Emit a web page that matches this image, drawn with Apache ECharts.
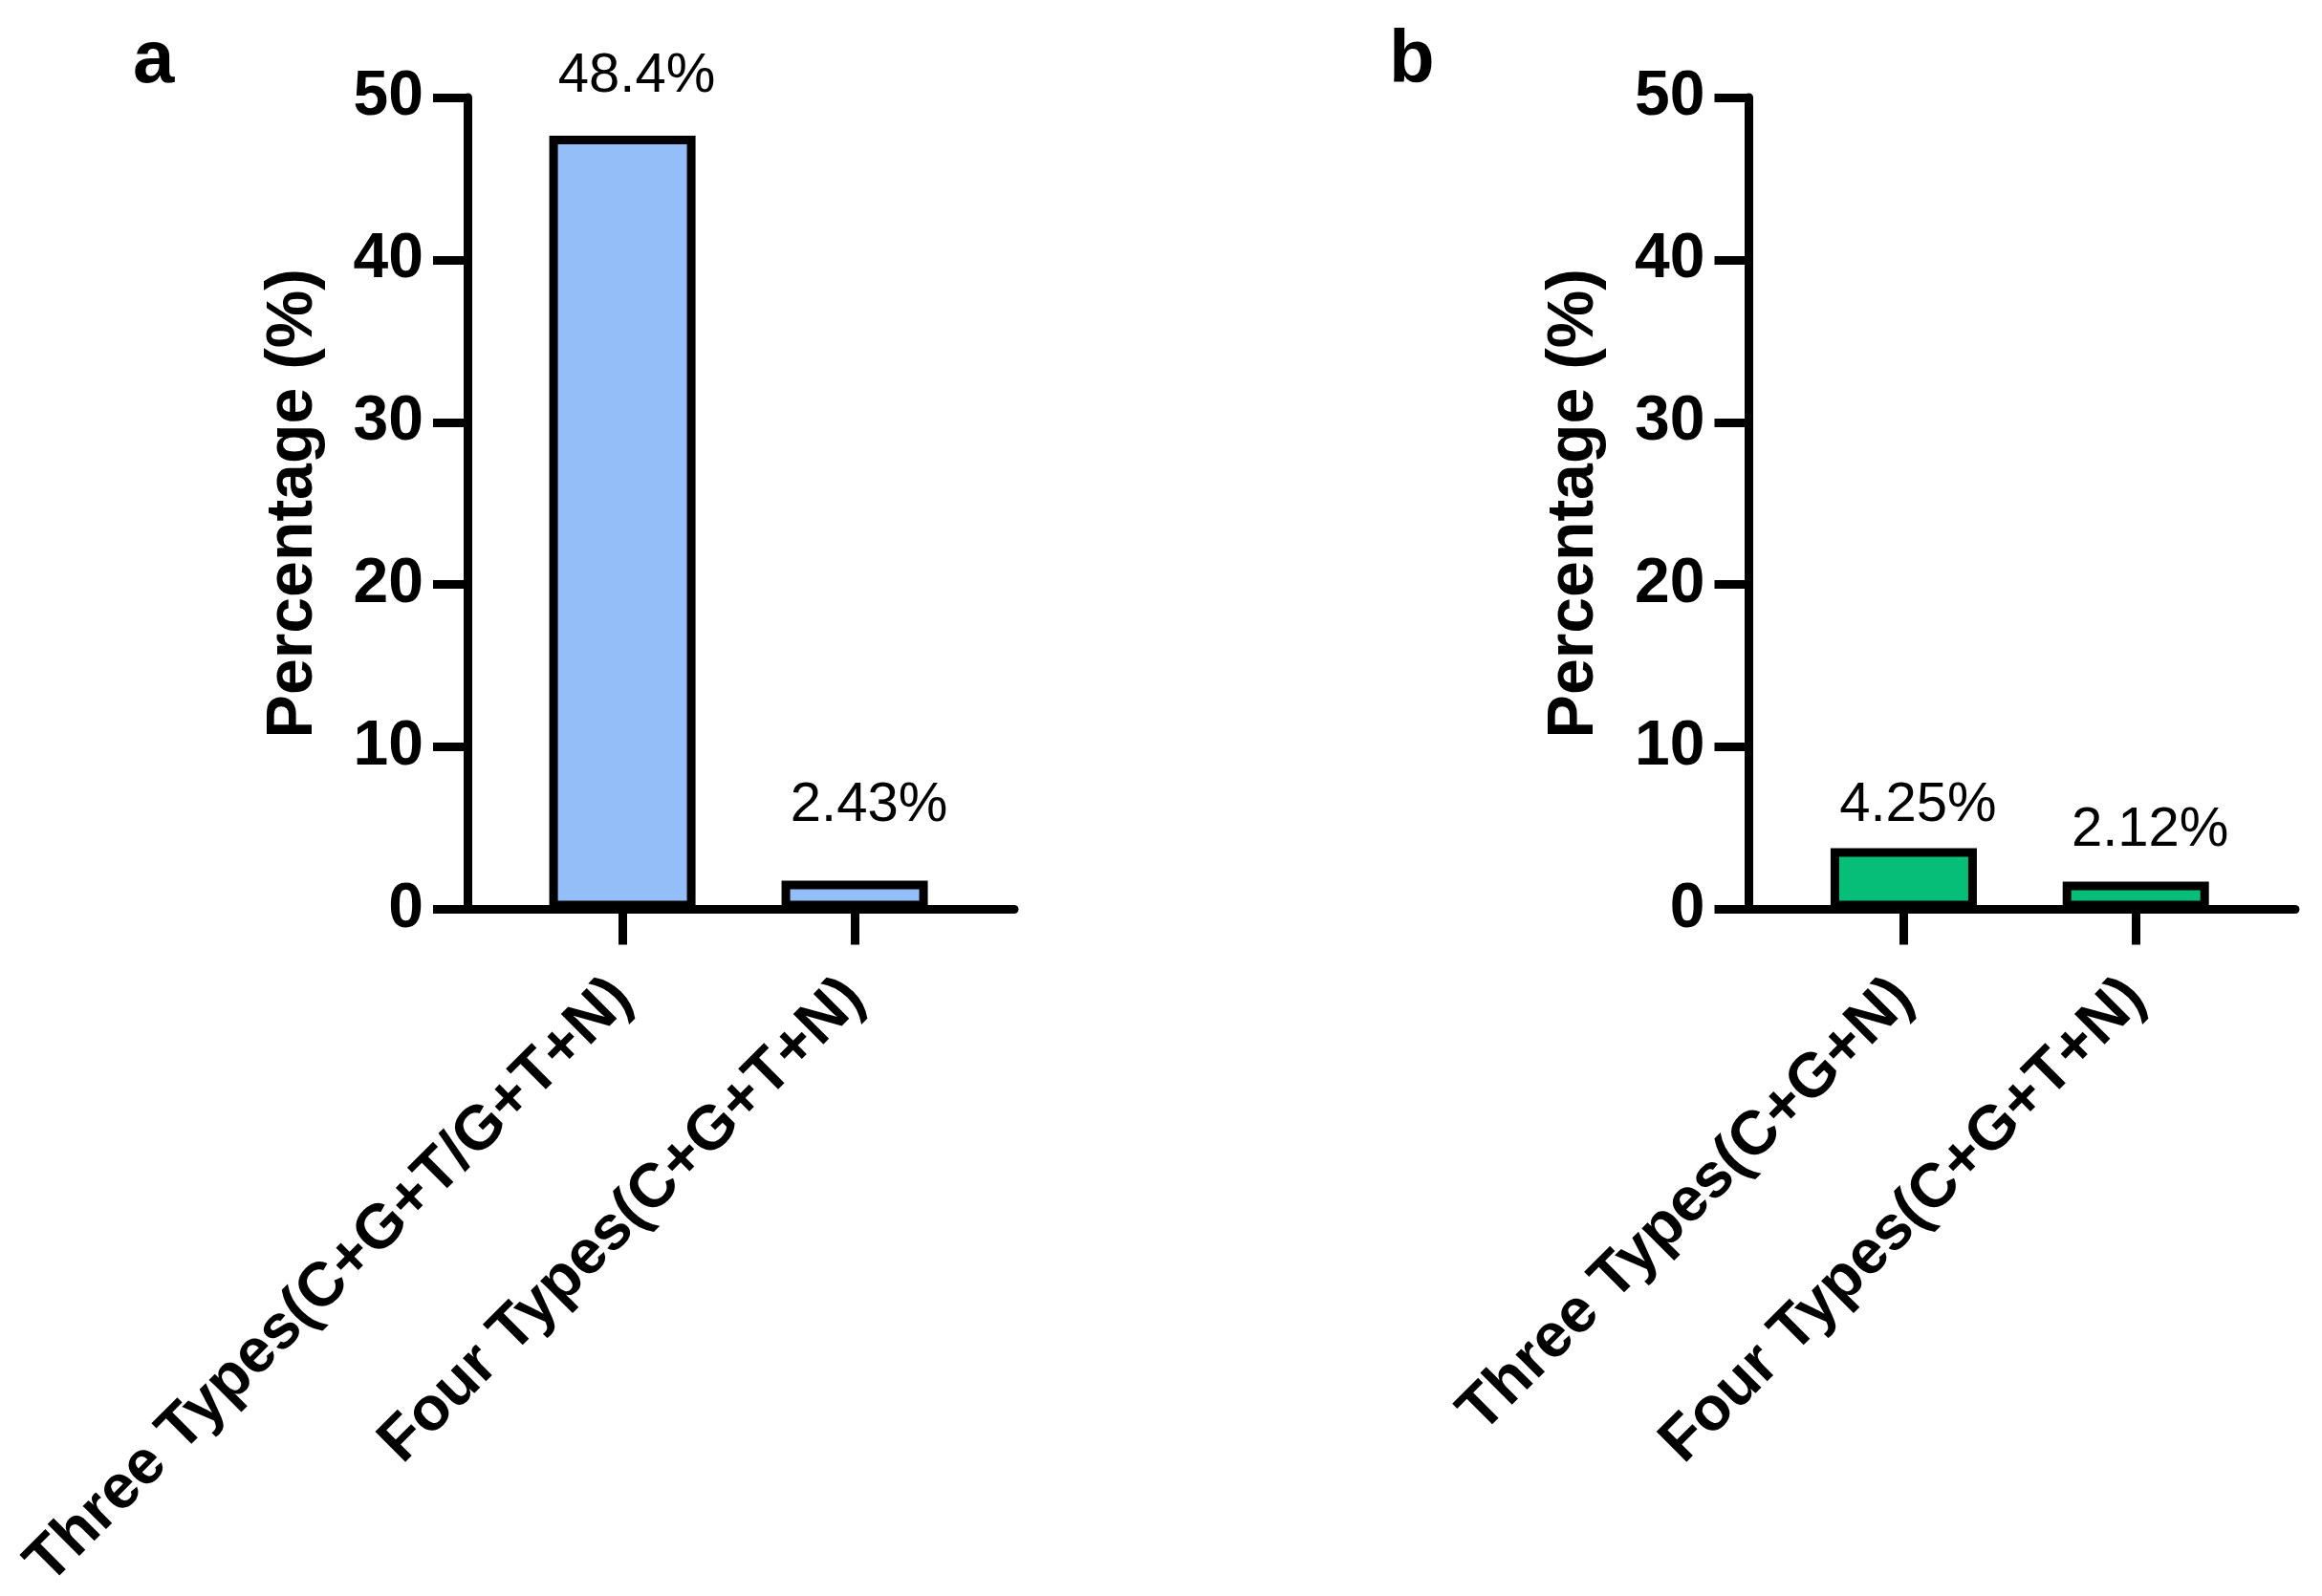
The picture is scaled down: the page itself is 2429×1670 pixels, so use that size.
<!DOCTYPE html>
<html>
<head>
<meta charset="utf-8">
<script src="https://cdn.jsdelivr.net/npm/echarts@6/dist/echarts.min.js"></script>
<style>
html,body{margin:0;padding:0;background:#fff;}
#chart{width:2429px;height:1670px;}
</style>
</head>
<body>
<div id="chart"></div>
<script>
// ---- data ----
const panelLetters = ['a', 'b'];
const categoriesA = ['Three Types(C+G+T/G+T+N)', 'Four Types(C+G+T+N)'];
const categoriesB = ['Three Types(C+G+N)', 'Four Types(C+G+T+N)'];
const barValuesA = [47.65, 1.76];
const barValuesB = [3.76, 1.71];
const labelTextsA = ['48.4%', '2.43%'];
const labelTextsB = ['4.25%', '2.12%'];
const yTicks = [0, 10, 20, 30, 40, 50];
const yAxisTitle = 'Percentage (%)';

// ---- styling ----
const FONT = 'Liberation Sans, Arial, Helvetica, sans-serif';
const colorA = '#93BEF7';
const colorB = '#07BE78';
const labelDistA = [33, 50];
const labelDistB = [16, 24];

const chart = echarts.init(document.getElementById('chart'), null, {renderer: 'canvas'});

function xAxisFor(gridIndex, cats) {
  return {
    type: 'value', gridIndex: gridIndex, min: -0.667, max: 1.687,
    splitLine: {show: false},
    axisLine: {show: true, onZero: false, lineStyle: {color: '#000', width: 9}},
    axisTick: {show: true, customValues: [0, 1], length: 37, lineStyle: {color: '#000', width: 9}},
    axisLabel: {
      show: true, customValues: [0, 1], rotate: 45, margin: 83,
      fontFamily: FONT, fontWeight: 'bold', fontSize: 65, color: '#000',
      formatter: function (v) { return cats[Math.round(v)] || ''; }
    }
  };
}
function yAxisFor(gridIndex) {
  return {
    type: 'value', gridIndex: gridIndex, min: yTicks[0], max: yTicks[yTicks.length - 1], interval: 10,
    name: yAxisTitle, nameLocation: 'middle', nameGap: 148,
    nameTextStyle: {fontFamily: FONT, fontWeight: 'bold', fontSize: 68, color: '#000'},
    splitLine: {show: false},
    axisLine: {show: true, onZero: false, lineStyle: {color: '#000', width: 9}},
    axisTick: {show: true, length: 36, lineStyle: {color: '#000', width: 9}},
    axisLabel: {margin: 46, fontFamily: FONT, fontWeight: 'bold', fontSize: 66, color: '#000'}
  };
}
function seriesFor(idx, values, texts, color, dists) {
  return {
    type: 'bar', xAxisIndex: idx, yAxisIndex: idx, barWidth: 153,
    data: values.map(function (v, i) {
      return {value: [i, v], label: {distance: dists[i]}};
    }),
    itemStyle: {color: color, borderColor: '#000', borderWidth: 9},
    label: {
      show: true, position: 'top', offset: [15, 0],
      fontFamily: FONT, fontWeight: 'normal', fontSize: 58, color: '#000',
      formatter: function (p) { return texts[p.dataIndex]; }
    },
    emphasis: {disabled: true},
    animation: false
  };
}

const gridBase = {top: 102, bottom: 718.5, containLabel: false, outerBoundsMode: 'none'};
const option = {
  backgroundColor: '#fff',
  animation: false,
  title: [
    {text: panelLetters[0], left: 134, top: 20, textStyle: {fontFamily: FONT, fontWeight: 'bold', fontSize: 78, color: '#000'}},
    {text: panelLetters[1], left: 1448, top: 20, textStyle: {fontFamily: FONT, fontWeight: 'bold', fontSize: 78, color: '#000'}}
  ],
  grid: [
    Object.assign({left: 489, right: 1368}, gridBase),
    Object.assign({left: 1829.5, right: 28}, gridBase)
  ],
  xAxis: [xAxisFor(0, categoriesA), xAxisFor(1, categoriesB)],
  yAxis: [yAxisFor(0), yAxisFor(1)],
  series: [
    seriesFor(0, barValuesA, labelTextsA, colorA, labelDistA),
    seriesFor(1, barValuesB, labelTextsB, colorB, labelDistB)
  ]
};
chart.setOption(option);
</script>
</body>
</html>
